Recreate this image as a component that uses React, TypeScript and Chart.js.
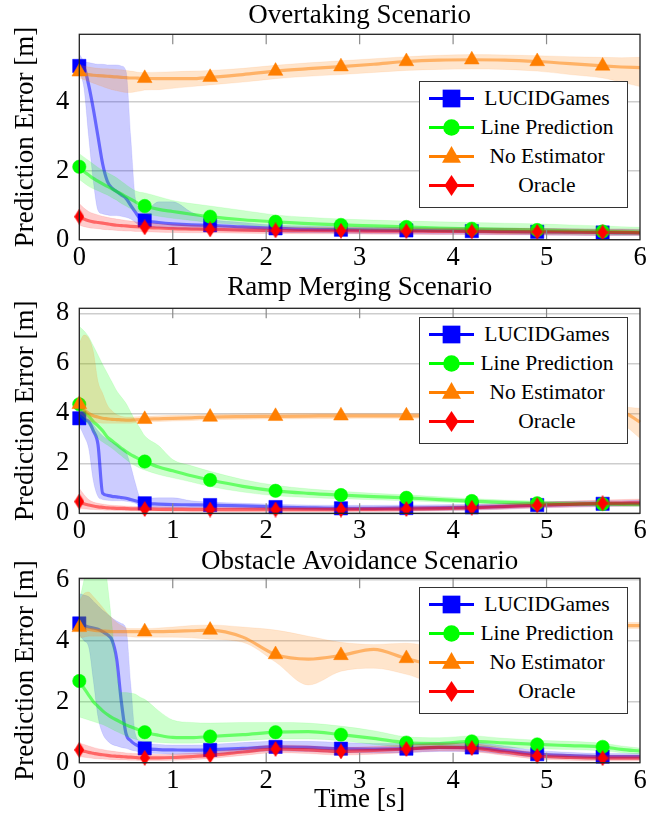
import React, { useEffect, useRef } from "react";
import { Chart, registerables } from "chart.js";

Chart.register(...registerables);

const FONT = '"Liberation Serif", "Times New Roman", serif';

// ---------- shared axes ----------
const TIME = [0, 0.05, 0.1, 0.15, 0.2, 0.25, 0.3, 0.35, 0.4, 0.45, 0.5, 0.55, 0.6, 0.65, 0.7, 0.85, 1.0, 1.2, 1.4, 1.75, 2.1, 2.45, 2.8, 3.15, 3.5, 3.85, 4.2, 4.55, 4.9, 5.25, 5.6, 5.8, 6.0];
const MARK_TIMES = [0, 0.7, 1.4, 2.1, 2.8, 3.5, 4.2, 4.9, 5.6];
const X_TICKS = [0, 1, 2, 3, 4, 5, 6];
const SERIES_NAMES = ["LUCIDGames", "Line Prediction", "No Estimator", "Oracle"];

// ---------- Overtaking Scenario ----------
const OVT_Y_TICKS = [0, 2, 4];
const OVT_LUCID_MEAN = [5.05, 5.0, 4.5, 3.8, 3.0, 2.2, 1.7, 1.5, 1.4, 1.3, 1.2, 1.0, 0.8, 0.62, 0.56, 0.5, 0.46, 0.43, 0.42, 0.37, 0.33, 0.3, 0.29, 0.28, 0.27, 0.26, 0.25, 0.24, 0.23, 0.22, 0.21, 0.2, 0.2];
const OVT_LUCID_UP = [5.4, 5.2, 5.15, 5.12, 5.1, 5.1, 5.08, 5.08, 5.08, 5.05, 4.9, 3.0, 1.2, 0.9, 0.85, 1.1, 1.1, 0.8, 0.6, 0.5, 0.42, 0.4, 0.38, 0.37, 0.36, 0.35, 0.35, 0.34, 0.33, 0.32, 0.31, 0.31, 0.3];
const OVT_LUCID_LO = [4.9, 4.4, 3.0, 1.7, 0.85, 0.75, 0.72, 0.7, 0.7, 0.68, 0.65, 0.6, 0.5, 0.4, 0.38, 0.35, 0.32, 0.3, 0.28, 0.25, 0.22, 0.2, 0.19, 0.18, 0.17, 0.16, 0.16, 0.15, 0.14, 0.13, 0.12, 0.12, 0.12];
const OVT_LINE_MEAN = [2.12, 1.98, 1.88, 1.78, 1.7, 1.62, 1.55, 1.48, 1.4, 1.33, 1.25, 1.18, 1.1, 1.03, 0.98, 0.88, 0.82, 0.74, 0.67, 0.58, 0.52, 0.47, 0.43, 0.4, 0.37, 0.34, 0.32, 0.3, 0.28, 0.26, 0.24, 0.23, 0.22];
const OVT_LINE_UP = [2.5, 2.4, 2.3, 2.2, 2.1, 2.02, 1.95, 1.88, 1.8, 1.7, 1.6, 1.5, 1.42, 1.38, 1.36, 1.25, 1.14, 1.05, 0.98, 0.85, 0.72, 0.65, 0.6, 0.57, 0.54, 0.52, 0.5, 0.48, 0.46, 0.43, 0.4, 0.38, 0.36];
const OVT_LINE_LO = [1.75, 1.65, 1.55, 1.48, 1.42, 1.36, 1.3, 1.22, 1.15, 1.05, 0.98, 0.9, 0.84, 0.8, 0.76, 0.68, 0.62, 0.56, 0.5, 0.43, 0.38, 0.34, 0.31, 0.28, 0.25, 0.23, 0.21, 0.19, 0.17, 0.16, 0.15, 0.14, 0.14];
const OVT_NOEST_MEAN = [4.88, 4.82, 4.8, 4.78, 4.77, 4.76, 4.75, 4.74, 4.73, 4.72, 4.71, 4.7, 4.7, 4.69, 4.69, 4.68, 4.68, 4.68, 4.72, 4.8, 4.9, 4.97, 5.03, 5.1, 5.18, 5.22, 5.23, 5.22, 5.18, 5.12, 5.05, 5.02, 5.0];
const OVT_NOEST_UP = [5.1, 5.05, 5.02, 5.0, 4.98, 4.97, 4.97, 4.96, 4.95, 4.94, 4.92, 4.9, 4.88, 4.86, 4.86, 4.87, 4.88, 4.9, 4.92, 4.98, 5.07, 5.14, 5.2, 5.26, 5.32, 5.36, 5.38, 5.37, 5.35, 5.32, 5.3, 5.29, 5.3];
const OVT_NOEST_LO = [4.7, 4.65, 4.6, 4.55, 4.5, 4.45, 4.4, 4.36, 4.33, 4.3, 4.28, 4.28, 4.3, 4.32, 4.35, 4.36, 4.4, 4.45, 4.5, 4.58, 4.68, 4.75, 4.8, 4.86, 4.92, 4.95, 4.96, 4.95, 4.9, 4.8, 4.7, 4.58, 4.45];
const OVT_ORACLE_MEAN = [0.67, 0.6, 0.55, 0.52, 0.5, 0.48, 0.46, 0.44, 0.42, 0.41, 0.4, 0.39, 0.38, 0.37, 0.36, 0.34, 0.32, 0.31, 0.3, 0.28, 0.27, 0.26, 0.26, 0.25, 0.25, 0.24, 0.24, 0.23, 0.23, 0.22, 0.21, 0.21, 0.2];
const OVT_ORACLE_UP = [1.05, 0.92, 0.82, 0.76, 0.72, 0.68, 0.65, 0.62, 0.6, 0.58, 0.56, 0.54, 0.52, 0.5, 0.49, 0.46, 0.44, 0.42, 0.4, 0.38, 0.37, 0.36, 0.36, 0.35, 0.35, 0.34, 0.34, 0.33, 0.33, 0.32, 0.31, 0.31, 0.3];
const OVT_ORACLE_LO = [0.42, 0.38, 0.35, 0.33, 0.32, 0.3, 0.29, 0.28, 0.27, 0.26, 0.25, 0.25, 0.24, 0.24, 0.23, 0.22, 0.21, 0.2, 0.2, 0.19, 0.18, 0.17, 0.17, 0.16, 0.16, 0.15, 0.15, 0.14, 0.14, 0.13, 0.12, 0.12, 0.12];

// ---------- Ramp Merging Scenario ----------
const RAMP_Y_TICKS = [0, 2, 4, 6, 8];
const RAMP_LUCID_MEAN = [3.8, 3.75, 3.67, 3.3, 2.75, 0.8, 0.72, 0.68, 0.66, 0.63, 0.6, 0.55, 0.5, 0.45, 0.4, 0.37, 0.35, 0.34, 0.33, 0.3, 0.25, 0.22, 0.2, 0.2, 0.21, 0.22, 0.24, 0.28, 0.33, 0.36, 0.38, 0.39, 0.4];
const RAMP_LUCID_UP = [4.2, 4.0, 3.8, 3.55, 3.3, 3.1, 2.95, 2.85, 2.75, 2.6, 2.45, 1.9, 1.2, 0.65, 0.6, 0.62, 0.62, 0.5, 0.45, 0.4, 0.36, 0.33, 0.32, 0.32, 0.33, 0.34, 0.36, 0.4, 0.45, 0.48, 0.5, 0.5, 0.52];
const RAMP_LUCID_LO = [3.5, 3.1, 2.6, 1.3, 0.67, 0.55, 0.52, 0.5, 0.5, 0.5, 0.48, 0.45, 0.4, 0.3, 0.25, 0.23, 0.22, 0.21, 0.2, 0.17, 0.14, 0.12, 0.1, 0.1, 0.1, 0.11, 0.13, 0.17, 0.22, 0.25, 0.27, 0.28, 0.29];
const RAMP_LINE_MEAN = [4.36, 4.1, 3.9, 3.67, 3.5, 3.3, 3.05, 2.9, 2.75, 2.6, 2.47, 2.35, 2.25, 2.15, 2.07, 1.85, 1.7, 1.5, 1.33, 1.08, 0.9, 0.8, 0.73, 0.67, 0.62, 0.55, 0.49, 0.44, 0.4, 0.38, 0.37, 0.36, 0.35];
const RAMP_LINE_UP = [7.47, 7.3, 7.06, 6.7, 6.33, 5.95, 5.6, 5.25, 4.9, 4.65, 4.4, 4.05, 3.7, 3.4, 3.1, 2.7, 2.15, 1.9, 1.68, 1.35, 1.12, 0.98, 0.88, 0.8, 0.74, 0.66, 0.59, 0.53, 0.49, 0.47, 0.46, 0.45, 0.44];
const RAMP_LINE_LO = [3.9, 3.7, 3.53, 3.25, 3.0, 2.85, 2.73, 2.6, 2.45, 2.3, 2.15, 2.0, 1.9, 1.8, 1.73, 1.55, 1.42, 1.25, 1.07, 0.85, 0.7, 0.63, 0.58, 0.54, 0.5, 0.45, 0.4, 0.36, 0.33, 0.31, 0.3, 0.29, 0.28];
const RAMP_NOEST_MEAN = [4.36, 4.15, 4.0, 3.9, 3.85, 3.8, 3.78, 3.76, 3.75, 3.74, 3.73, 3.73, 3.74, 3.75, 3.76, 3.78, 3.8, 3.82, 3.85, 3.87, 3.88, 3.89, 3.9, 3.9, 3.9, 3.9, 3.9, 3.9, 3.9, 3.9, 3.95, 4.05, 3.65];
const RAMP_NOEST_UP = [6.8, 7.13, 7.0, 6.47, 5.27, 4.8, 4.33, 4.1, 3.95, 3.88, 3.85, 3.85, 3.86, 3.87, 3.88, 3.9, 3.92, 3.94, 3.96, 3.98, 3.99, 4.0, 4.0, 4.0, 4.0, 4.0, 4.0, 4.0, 4.0, 4.0, 4.05, 4.25, 4.2];
const RAMP_NOEST_LO = [4.0, 3.85, 3.7, 3.65, 3.62, 3.6, 3.6, 3.6, 3.6, 3.6, 3.6, 3.6, 3.62, 3.63, 3.65, 3.67, 3.69, 3.71, 3.74, 3.76, 3.77, 3.78, 3.79, 3.8, 3.8, 3.8, 3.8, 3.8, 3.8, 3.8, 3.8, 3.6, 3.0];
const RAMP_ORACLE_MEAN = [0.47, 0.38, 0.33, 0.29, 0.26, 0.24, 0.22, 0.21, 0.2, 0.2, 0.19, 0.18, 0.18, 0.17, 0.17, 0.16, 0.16, 0.15, 0.15, 0.15, 0.15, 0.15, 0.15, 0.16, 0.17, 0.19, 0.22, 0.27, 0.32, 0.36, 0.4, 0.41, 0.42];
const RAMP_ORACLE_UP = [1.0, 0.75, 0.55, 0.45, 0.4, 0.37, 0.34, 0.32, 0.31, 0.3, 0.29, 0.28, 0.27, 0.27, 0.26, 0.26, 0.25, 0.24, 0.24, 0.24, 0.24, 0.24, 0.24, 0.25, 0.27, 0.29, 0.33, 0.38, 0.44, 0.49, 0.53, 0.55, 0.57];
const RAMP_ORACLE_LO = [0.2, 0.18, 0.16, 0.15, 0.14, 0.13, 0.12, 0.12, 0.11, 0.11, 0.1, 0.1, 0.1, 0.09, 0.09, 0.09, 0.08, 0.08, 0.08, 0.07, 0.07, 0.07, 0.07, 0.07, 0.08, 0.1, 0.12, 0.16, 0.21, 0.24, 0.27, 0.28, 0.29];

// ---------- Obstacle Avoidance Scenario ----------
const OBST_Y_TICKS = [0, 2, 4, 6];
const OBST_LUCID_MEAN = [4.57, 4.5, 4.45, 4.42, 4.38, 4.3, 4.2, 4.02, 3.4, 2.0, 0.95, 0.72, 0.6, 0.52, 0.47, 0.43, 0.42, 0.41, 0.42, 0.47, 0.52, 0.5, 0.46, 0.45, 0.46, 0.5, 0.5, 0.4, 0.28, 0.23, 0.2, 0.2, 0.2];
const OBST_LUCID_UP = [5.55, 5.5, 5.45, 5.3, 5.15, 5.0, 4.88, 4.75, 4.65, 4.57, 4.4, 2.6, 0.95, 0.72, 0.65, 0.6, 0.58, 0.58, 0.6, 0.66, 0.7, 0.7, 0.66, 0.63, 0.63, 0.66, 0.66, 0.55, 0.4, 0.34, 0.3, 0.3, 0.3];
const OBST_LUCID_LO = [4.2, 4.0, 3.8, 2.7, 1.5, 0.95, 0.72, 0.6, 0.55, 0.5, 0.47, 0.42, 0.38, 0.35, 0.33, 0.3, 0.28, 0.28, 0.28, 0.33, 0.38, 0.36, 0.33, 0.32, 0.33, 0.37, 0.37, 0.28, 0.17, 0.13, 0.11, 0.11, 0.11];
const OBST_LINE_MEAN = [2.68, 2.45, 2.22, 2.0, 1.85, 1.7, 1.58, 1.48, 1.4, 1.32, 1.24, 1.18, 1.12, 1.06, 1.0, 0.9, 0.83, 0.82, 0.86, 0.92, 1.0, 1.02, 0.92, 0.8, 0.66, 0.63, 0.7, 0.65, 0.6, 0.56, 0.52, 0.44, 0.38];
const OBST_LINE_UP = [5.3, 6.0, 6.8, 7.2, 7.3, 7.0, 5.9, 4.5, 2.9, 2.3, 2.3, 2.28, 2.25, 2.15, 2.08, 1.7, 1.4, 1.32, 1.3, 1.32, 1.32, 1.3, 1.2, 1.05, 0.85, 0.82, 0.88, 0.8, 0.74, 0.7, 0.64, 0.55, 0.48];
const OBST_LINE_LO = [1.5, 1.45, 1.4, 1.35, 1.3, 1.25, 1.18, 1.1, 1.02, 0.95, 0.88, 0.82, 0.77, 0.73, 0.7, 0.66, 0.64, 0.64, 0.66, 0.72, 0.78, 0.78, 0.72, 0.6, 0.5, 0.48, 0.54, 0.5, 0.46, 0.43, 0.39, 0.33, 0.28];
const OBST_NOEST_MEAN = [4.44, 4.4, 4.37, 4.35, 4.33, 4.32, 4.31, 4.3, 4.3, 4.3, 4.3, 4.3, 4.3, 4.3, 4.3, 4.3, 4.31, 4.33, 4.35, 4.12, 3.55, 3.4, 3.52, 3.72, 3.42, 3.2, 3.6, 3.9, 4.2, 4.4, 4.5, 4.5, 4.5];
const OBST_NOEST_UP = [5.3, 5.55, 5.6, 5.45, 5.28, 5.1, 4.9, 4.75, 4.6, 4.5, 4.42, 4.4, 4.4, 4.4, 4.4, 4.42, 4.45, 4.5, 4.52, 4.45, 4.35, 4.15, 3.95, 3.88, 3.92, 3.8, 4.1, 4.3, 4.45, 4.55, 4.6, 4.6, 4.6];
const OBST_NOEST_LO = [4.1, 4.12, 4.15, 4.15, 4.15, 4.15, 4.15, 4.15, 4.15, 4.15, 4.15, 4.13, 4.12, 4.12, 4.12, 4.12, 4.12, 4.1, 4.05, 3.95, 3.3, 2.55, 3.0, 3.1, 2.9, 2.6, 3.0, 3.4, 3.9, 4.2, 4.38, 4.4, 4.4];
const OBST_ORACLE_MEAN = [0.42, 0.38, 0.34, 0.31, 0.28, 0.26, 0.24, 0.22, 0.21, 0.2, 0.19, 0.18, 0.17, 0.16, 0.16, 0.16, 0.17, 0.2, 0.24, 0.35, 0.45, 0.42, 0.37, 0.4, 0.45, 0.5, 0.48, 0.35, 0.22, 0.17, 0.15, 0.15, 0.15];
const OBST_ORACLE_UP = [0.65, 0.6, 0.55, 0.5, 0.46, 0.43, 0.4, 0.38, 0.36, 0.34, 0.32, 0.31, 0.3, 0.29, 0.28, 0.27, 0.28, 0.31, 0.35, 0.47, 0.58, 0.56, 0.5, 0.53, 0.58, 0.63, 0.62, 0.48, 0.33, 0.27, 0.25, 0.25, 0.25];
const OBST_ORACLE_LO = [0.2, 0.18, 0.16, 0.14, 0.13, 0.12, 0.11, 0.1, 0.1, 0.09, 0.09, 0.08, 0.08, 0.07, 0.07, 0.07, 0.08, 0.1, 0.14, 0.24, 0.33, 0.3, 0.25, 0.28, 0.33, 0.38, 0.36, 0.24, 0.12, 0.08, 0.06, 0.06, 0.06];

// ---------- styling ----------
type Marker = "rect" | "circle" | "triangle" | "diamond";
const SERIES_STYLE: { rgb: string; marker: Marker; radius: number }[] = [
  { rgb: "0,0,255", marker: "rect", radius: 9.4 },
  { rgb: "0,255,0", marker: "circle", radius: 6.7 },
  { rgb: "255,127,0", marker: "triangle", radius: 8.5 },
  { rgb: "255,0,0", marker: "diamond", radius: 8 },
];

type PanelCfg = {
  title: string;
  top: number;
  height: number;
  titlePad: { top: number; bottom: number };
  xAxisHeight: number;
  yMax: number;
  yTicks: number[];
  series: number[][][];
  legendTop: number;
  xTitle: boolean;
};

const PANELS: PanelCfg[] = [
  {
    title: "Overtaking Scenario",
    top: 0,
    height: 268,
    titlePad: { top: 0, bottom: 1.9 },
    xAxisHeight: 28.3,
    yMax: 5.97,
    yTicks: OVT_Y_TICKS,
    series: [
      [OVT_LUCID_MEAN, OVT_LUCID_UP, OVT_LUCID_LO],
      [OVT_LINE_MEAN, OVT_LINE_UP, OVT_LINE_LO],
      [OVT_NOEST_MEAN, OVT_NOEST_UP, OVT_NOEST_LO],
      [OVT_ORACLE_MEAN, OVT_ORACLE_UP, OVT_ORACLE_LO],
    ],
    legendTop: 80.7,
    xTitle: false,
  },
  {
    title: "Ramp Merging Scenario",
    top: 268,
    height: 274,
    titlePad: { top: 3.5, bottom: 4.4 },
    xAxisHeight: 28.7,
    yMax: 8.2,
    yTicks: RAMP_Y_TICKS,
    series: [
      [RAMP_LUCID_MEAN, RAMP_LUCID_UP, RAMP_LUCID_LO],
      [RAMP_LINE_MEAN, RAMP_LINE_UP, RAMP_LINE_LO],
      [RAMP_NOEST_MEAN, RAMP_NOEST_UP, RAMP_NOEST_LO],
      [RAMP_ORACLE_MEAN, RAMP_ORACLE_UP, RAMP_ORACLE_LO],
    ],
    legendTop: 316.7,
    xTitle: false,
  },
  {
    title: "Obstacle Avoidance Scenario",
    top: 542,
    height: 272,
    titlePad: { top: 3.5, bottom: 0.4 },
    xAxisHeight: 51.3,
    yMax: 6.05,
    yTicks: OBST_Y_TICKS,
    series: [
      [OBST_LUCID_MEAN, OBST_LUCID_UP, OBST_LUCID_LO],
      [OBST_LINE_MEAN, OBST_LINE_UP, OBST_LINE_LO],
      [OBST_NOEST_MEAN, OBST_NOEST_UP, OBST_NOEST_LO],
      [OBST_ORACLE_MEAN, OBST_ORACLE_UP, OBST_ORACLE_LO],
    ],
    legendTop: 586.7,
    xTitle: true,
  },
];

const PLOT_LEFT = 79.3;
const RIGHT_PAD = 19;

function makeDiamond(w: number, h: number, color: string) {
  const c = document.createElement("canvas");
  c.width = w;
  c.height = h;
  const g = c.getContext("2d")!;
  g.fillStyle = color;
  g.beginPath();
  g.moveTo(w / 2, 0);
  g.lineTo(w, h / 2);
  g.lineTo(w / 2, h);
  g.lineTo(0, h / 2);
  g.closePath();
  g.fill();
  return c;
}

const framePlugin = {
  id: "frameTicks",
  afterDatasetsDraw(chart: any) {
    const { ctx, chartArea } = chart;
    const { left, right, top, bottom } = chartArea;
    const x = chart.scales.x;
    ctx.save();
    ctx.strokeStyle = "#8a8a8a";
    ctx.lineWidth = 1.2;
    for (const v of X_TICKS) {
      if (v === 0 || v === 6) continue;
      const px = x.getPixelForValue(v);
      ctx.beginPath();
      ctx.moveTo(px, top);
      ctx.lineTo(px, top + 10);
      ctx.moveTo(px, bottom);
      ctx.lineTo(px, bottom - 10);
      ctx.stroke();
    }
    ctx.strokeStyle = "#222";
    ctx.lineWidth = 1.3;
    ctx.strokeRect(left, top, right - left, bottom - top);
    ctx.restore();
  },
};

const isMark = (t: number) => MARK_TIMES.some((m) => Math.abs(m - t) < 1e-6);

function buildConfig(p: PanelCfg, diamond: HTMLCanvasElement): any {
  const datasets: any[] = [];
  p.series.forEach((arrs, s) => {
    const st = SERIES_STYLE[s];
    const [mean, up, lo] = arrs;
    const pts = (a: number[]) => TIME.map((t, i) => ({ x: t, y: a[i] }));
    const base = 100 - s * 3;
    datasets.push({
      label: SERIES_NAMES[s] + " upper",
      data: pts(up),
      borderWidth: 0.8,
      borderColor: `rgba(${st.rgb},0.12)`,
      backgroundColor: `rgba(${st.rgb},0.2)`,
      fill: "+1",
      pointRadius: 0,
      cubicInterpolationMode: "monotone",
      order: base,
    });
    datasets.push({
      label: SERIES_NAMES[s] + " lower",
      data: pts(lo),
      borderWidth: 0.8,
      borderColor: `rgba(${st.rgb},0.12)`,
      backgroundColor: "transparent",
      fill: false,
      pointRadius: 0,
      cubicInterpolationMode: "monotone",
      order: base - 1,
    });
    datasets.push({
      label: SERIES_NAMES[s],
      data: pts(mean),
      borderWidth: 3.2,
      borderColor: `rgba(${st.rgb},0.5)`,
      backgroundColor: `rgb(${st.rgb})`,
      fill: false,
      cubicInterpolationMode: "monotone",
      pointStyle: st.marker === "diamond" ? diamond : st.marker,
      pointRadius: (c: any) => (isMark(TIME[c.dataIndex]) ? st.radius : 0),
      pointBackgroundColor: `rgb(${st.rgb})`,
      pointBorderColor: `rgb(${st.rgb})`,
      pointBorderWidth: 0.5,
      clip: false,
      order: base - 2,
    });
  });

  const tickFont = { family: FONT, size: 26.5, lineHeight: 1.2 };
  const labelFont = { family: FONT, size: 27, weight: "normal", lineHeight: 1.2 };

  return {
    type: "line",
    data: { datasets },
    plugins: [framePlugin],
    options: {
      responsive: false,
      animation: false,
      events: [],
      layout: { padding: { left: 0, right: RIGHT_PAD, top: 0, bottom: 0 } },
      plugins: {
        legend: { display: false },
        tooltip: { enabled: false },
        title: {
          display: true,
          text: p.title,
          fullSize: false,
          color: "#000",
          font: labelFont,
          padding: p.titlePad,
        },
      },
      scales: {
        x: {
          type: "linear",
          min: 0,
          max: 6,
          afterBuildTicks: (axis: any) => {
            axis.ticks = X_TICKS.map((v) => ({ value: v }));
          },
          afterFit: (axis: any) => {
            axis.height = p.xAxisHeight;
          },
          grid: { display: false, drawTicks: false },
          border: { display: false },
          ticks: { font: tickFont, color: "#000", padding: 2, maxRotation: 0, autoSkip: false },
          title: {
            display: p.xTitle,
            text: "Time [s]",
            color: "#000",
            font: { family: FONT, size: 27, lineHeight: 1.04 },
            padding: { top: 0, bottom: 0 },
          },
        },
        y: {
          type: "linear",
          min: 0,
          max: p.yMax,
          afterBuildTicks: (axis: any) => {
            axis.ticks = p.yTicks.map((v) => ({ value: v }));
          },
          afterFit: (axis: any) => {
            axis.width = PLOT_LEFT;
          },
          grid: { color: "#cdcdcd", lineWidth: 1.5, drawTicks: false },
          border: { display: false },
          ticks: { font: tickFont, color: "#000", padding: 10 },
          title: {
            display: true,
            text: "Prediction Error [m]",
            color: "#000",
            font: labelFont,
            padding: { top: 9.8, bottom: 0 },
          },
        },
      },
    },
  };
}

function LegendSymbol({ s }: { s: number }) {
  const st = SERIES_STYLE[s];
  const col = `rgb(${st.rgb})`;
  const cx = 22.5;
  const cy = 14.5;
  let marker: React.ReactNode = null;
  if (st.marker === "rect") marker = <rect x={cx - 8.85} y={cy - 8.85} width={17.7} height={17.7} fill={col} />;
  else if (st.marker === "circle") marker = <circle cx={cx} cy={cy} r={8.3} fill={col} />;
  else if (st.marker === "triangle")
    marker = <polygon points={`${cx},${cy - 10.5} ${cx + 9.5},${cy + 6.2} ${cx - 9.5},${cy + 6.2}`} fill={col} />;
  else marker = <polygon points={`${cx},${cy - 10.5} ${cx + 7},${cy} ${cx},${cy + 10.5} ${cx - 7},${cy}`} fill={col} />;
  return (
    <svg width={45} height={29} style={{ position: "absolute", left: 8.5, top: 0, overflow: "visible" }}>
      <line x1={0} y1={cy} x2={45} y2={cy} stroke={col} strokeWidth={3} />
      {marker}
    </svg>
  );
}

function Legend({ top }: { top: number }) {
  return (
    <div
      style={{
        position: "absolute",
        left: 419,
        top,
        width: 209,
        height: 127.6,
        boxSizing: "border-box",
        border: "1.5px solid #333",
        background: "#fff",
        fontFamily: FONT,
        fontSize: 21.5,
        color: "#000",
      }}
    >
      {SERIES_NAMES.map((name, i) => (
        <div key={name} style={{ position: "absolute", left: 0, top: 2.3 + i * 29, width: 206, height: 29 }}>
          <LegendSymbol s={i} />
          <div
            style={{
              position: "absolute",
              left: 47,
              width: 160,
              top: 0,
              height: 29,
              lineHeight: "29px",
              textAlign: "center",
              whiteSpace: "nowrap",
            }}
          >
            {name}
          </div>
        </div>
      ))}
    </div>
  );
}

export default function App() {
  const r0 = useRef<HTMLCanvasElement>(null);
  const r1 = useRef<HTMLCanvasElement>(null);
  const r2 = useRef<HTMLCanvasElement>(null);
  const refs = [r0, r1, r2];

  useEffect(() => {
    const diamond = makeDiamond(10, 16, "rgb(255,0,0)");
    const charts = PANELS.map((p, i) => new Chart(refs[i].current!, buildConfig(p, diamond)));
    return () => charts.forEach((c) => c.destroy());
  }, []);

  return (
    <div style={{ position: "absolute", left: 0, top: 0, width: 659, height: 814, background: "#fff", overflow: "hidden" }}>
      {PANELS.map((p, i) => (
        <React.Fragment key={p.title}>
          <canvas
            ref={refs[i]}
            width={659}
            height={p.height}
            style={{ position: "absolute", left: 0, top: p.top, width: 659, height: p.height }}
          />
          <Legend top={p.legendTop} />
        </React.Fragment>
      ))}
    </div>
  );
}
